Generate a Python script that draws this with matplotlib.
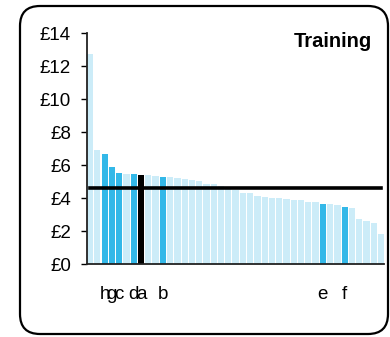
import numpy as np
import matplotlib
matplotlib.use("Agg")
import matplotlib.pyplot as plt
from matplotlib.patches import FancyBboxPatch

plt.rcParams['font.family'] = ['Liberation Sans', 'DejaVu Sans']

# values per provider, sorted (GBP)
values = [12.75, 6.93, 6.68, 5.90, 5.53, 5.47, 5.47, 5.41, 5.41, 5.37,
          5.29, 5.29, 5.23, 5.17, 5.11, 5.05, 4.87, 4.87, 4.72, 4.66,
          4.52, 4.32, 4.32, 4.14, 4.08, 4.02, 4.02, 3.96, 3.90, 3.90,
          3.78, 3.78, 3.66, 3.66, 3.60, 3.47, 3.41, 2.75, 2.63, 2.51, 1.84]
labels = [''] * len(values)
for i, s in [(2, 'h'), (3, 'g'), (4, 'c'), (6, 'd'), (7, 'a'), (10, 'b'), (32, 'e'), (35, 'f')]:
    labels[i] = s
highlight = ['h', 'g', 'c', 'd', 'b', 'e', 'f']
selected = 'a'
average = 4.62
yticks = [0, 2, 4, 6, 8, 10, 12, 14]
title = 'Training'

pale = '#CCECF8'
blue = '#33B8E8'

colors = []
for s in labels:
    if s == selected:
        colors.append('black')
    elif s in highlight:
        colors.append(blue)
    else:
        colors.append(pale)

fig = plt.figure(figsize=(3.9, 3.37), dpi=100)
ax = fig.add_axes([0.223, 0.2166, 0.762, 0.6844])

x = np.arange(len(values))
w = 0.86
ax.bar(x, values, width=w, color=colors, zorder=2)
ax.plot(x, [average] * len(x), color='black', linewidth=2.6, zorder=3)

ax.set_xlim(-w / 2, len(values) - 1 + w / 2)
ax.set_ylim(0, 14)
ax.set_yticks(yticks)
ax.set_yticklabels(['£%d' % v for v in yticks], fontsize=13.5)
ax.set_xticks(x)
ax.set_xticklabels(labels, fontsize=13.5)
ax.tick_params(axis='x', length=0, pad=16)
ax.tick_params(axis='y', direction='out', length=4.5, width=1, pad=7, colors='black')

for s in ['top', 'right']:
    ax.spines[s].set_visible(False)
for s in ['left', 'bottom']:
    ax.spines[s].set_color('#222222')
    ax.spines[s].set_linewidth(1.3)

fig.text(0.954, 0.878, title, fontsize=14.5, fontweight='bold', ha='right', va='center')

box = FancyBboxPatch((0.20, 0.03), 3.68, 3.28, boxstyle='round,pad=0,rounding_size=0.2',
                     transform=fig.dpi_scale_trans, facecolor='none', edgecolor='black',
                     linewidth=1.6)
fig.patches.append(box)

fig.savefig('out.png', dpi=100)
